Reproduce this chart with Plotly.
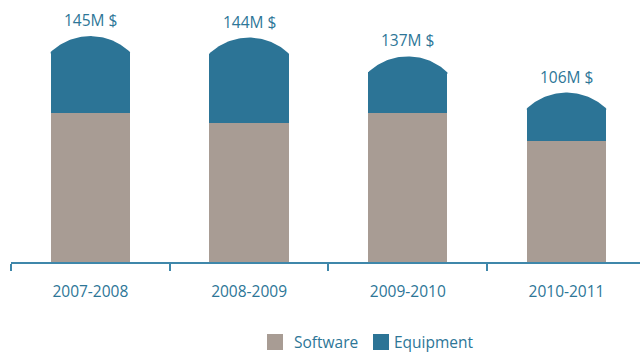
import numpy as np
import plotly.graph_objects as go

# ---- data ----
periods = ["2007-2008", "2008-2009", "2009-2010", "2010-2011"]
software = [103, 96, 103, 83.5]
equipment = [42, 48, 28, 22.5]
totals_label = [145, 144, 137, 106]
series_names = ["Software", "Equipment"]

SOFT_COLOR = "#a89c94"
EQUIP_COLOR = "#2c7496"
TEXT_COLOR = "#2d7697"
AXIS_COLOR = "#3f87aa"
FONT = "Open Sans"

# layout geometry
W, H = 640, 352
ML, MR, MT, MB = 11, 0, 0, 90
XRANGE = [-0.5, 3.463]
YRANGE = [0, 181]
BAR_W = 0.5
ARC_PX = 16  # height of rounded cap in px

px_per_x = (W - ML - MR) / (XRANGE[1] - XRANGE[0])
px_per_y = (H - MT - MB) / (YRANGE[1] - YRANGE[0])
xs_idx = list(range(len(periods)))

fig = go.Figure()
fig.add_trace(go.Bar(x=xs_idx, y=software, name=series_names[0],
                     marker=dict(color=SOFT_COLOR, line=dict(width=0)), width=BAR_W))
fig.add_trace(go.Bar(x=xs_idx, y=equipment, name=series_names[1],
                     marker=dict(color=EQUIP_COLOR, line=dict(width=0)), width=BAR_W))

# rounded caps on top of each bar
half_px = BAR_W * px_per_x / 2
R = (half_px ** 2 + ARC_PX ** 2) / (2 * ARC_PX)
for i, (s, e) in enumerate(zip(software, equipment)):
    top = s + e
    dxp = np.linspace(-half_px, half_px, 60)
    dyp = np.sqrt(R ** 2 - dxp ** 2) - (R - ARC_PX)
    xs = [i - BAR_W / 2] + list(i + dxp / px_per_x) + [i + BAR_W / 2]
    ys = [top - 1] + list(top + dyp / px_per_y) + [top - 1]
    fig.add_trace(go.Scatter(x=xs, y=ys, mode="lines", fill="toself",
                             fillcolor=EQUIP_COLOR, line=dict(width=0, color=EQUIP_COLOR),
                             showlegend=False, hoverinfo="skip"))
    fig.add_annotation(x=i, y=top + ARC_PX / px_per_y, text=f"{totals_label[i]}M $",
                       showarrow=False, yanchor="bottom", yshift=3,
                       font=dict(family=FONT, size=15.5, color=TEXT_COLOR))

# manual legend (paper coordinates): name, colour, swatch left px, text left px
legend_items = [(series_names[0], SOFT_COLOR, 267, 294), (series_names[1], EQUIP_COLOR, 373, 394)]
plot_w = W - ML - MR
plot_h = H - MT - MB
ly = 342
for name, col, lx, tx in legend_items:
    x0 = (lx - ML) / plot_w
    x1 = (lx + 16 - ML) / plot_w
    y0 = (H - MB - (ly + 8)) / plot_h
    y1 = (H - MB - (ly - 8)) / plot_h
    fig.add_shape(type="rect", xref="paper", yref="paper", x0=x0, x1=x1, y0=y0, y1=y1,
                  fillcolor=col, line=dict(width=0))
    fig.add_annotation(xref="paper", yref="paper", x=(tx - ML) / plot_w,
                       y=(H - MB - ly) / plot_h, text=name, showarrow=False,
                       xanchor="left", yanchor="middle", xshift=-2,
                       font=dict(family=FONT, size=15.5, color=TEXT_COLOR))

fig.update_layout(
    width=W, height=H, barmode="stack",
    margin=dict(l=ML, r=MR, t=MT, b=MB, autoexpand=False),
    plot_bgcolor="white", paper_bgcolor="white",
    font=dict(family=FONT, color=TEXT_COLOR),
    showlegend=False,
    xaxis=dict(range=XRANGE, tickmode="array", tickvals=xs_idx,
               ticktext=periods, showgrid=False, zeroline=False,
               showline=True, linecolor=AXIS_COLOR, linewidth=2,
               ticks="", ticklabelstandoff=14, automargin=False,
               minor=dict(tickmode="array", tickvals=[v - 0.5 for v in xs_idx] + [len(xs_idx) - 0.5],
                          ticks="outside", ticklen=7, tickcolor=AXIS_COLOR, tickwidth=2,
                          showgrid=False),
               tickfont=dict(family=FONT, size=15.5, color=TEXT_COLOR)),
    yaxis=dict(range=YRANGE, visible=False, showgrid=False, zeroline=False),
)
fig.write_html("out.html")
